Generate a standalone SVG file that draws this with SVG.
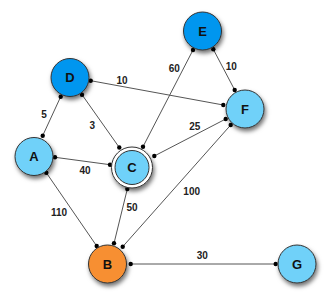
<svg xmlns="http://www.w3.org/2000/svg" width="330" height="300" viewBox="0 0 330 300">
<defs>
<filter id="sh" x="-50%" y="-50%" width="200%" height="200%">
<feDropShadow dx="1.5" dy="3" stdDeviation="2" flood-color="#000" flood-opacity="0.55"/>
</filter>
</defs>
<style>
.e{stroke:#555;stroke-width:1;fill:none}
.d{fill:#000}
.n{stroke:#333;stroke-width:1}
.dk{fill:#0396ef}
.lt{fill:#6fd1f9}
.or{fill:#f78f30}
.t{font-family:"Liberation Sans",Arial,sans-serif;font-weight:bold;text-anchor:middle}
.nl{font-size:13px;fill:#111}
.el{font-size:10px;fill:#222}
</style>
<rect width="330" height="300" fill="#fff"/>
<g id="connectors">
<line class="e" x1="60.7" y1="96.7" x2="42.7" y2="135.7"/>
<line class="e" x1="90.7" y1="80.7" x2="223.3" y2="105"/>
<line class="e" x1="82" y1="94.7" x2="119.3" y2="147.5"/>
<line class="e" x1="193" y1="50" x2="143" y2="146.7"/>
<line class="e" x1="213.3" y1="49.3" x2="234.7" y2="90"/>
<line class="e" x1="225.7" y1="119" x2="154.3" y2="156"/>
<line class="e" x1="230.7" y1="125" x2="122.7" y2="246.7"/>
<line class="e" x1="55" y1="157.3" x2="110" y2="164.7"/>
<line class="e" x1="46.3" y1="172.7" x2="96.7" y2="246"/>
<line class="e" x1="127.3" y1="189" x2="114" y2="243.3"/>
<line class="e" x1="130.7" y1="264" x2="275.7" y2="264"/>
<g class="d">
<circle cx="60.7" cy="96.7" r="2.2"/><circle cx="42.7" cy="135.7" r="2.2"/>
<circle cx="90.7" cy="80.7" r="2.2"/><circle cx="223.3" cy="105" r="2.2"/>
<circle cx="82" cy="94.7" r="2.2"/><circle cx="119.3" cy="147.5" r="2.2"/>
<circle cx="193" cy="50" r="2.2"/><circle cx="143" cy="146.7" r="2.2"/>
<circle cx="213.3" cy="49.3" r="2.2"/><circle cx="234.7" cy="90" r="2.2"/>
<circle cx="225.7" cy="119" r="2.2"/><circle cx="154.3" cy="156" r="2.2"/>
<circle cx="230.7" cy="125" r="2.2"/><circle cx="122.7" cy="246.7" r="2.2"/>
<circle cx="55" cy="157.3" r="2.2"/><circle cx="110" cy="164.7" r="2.2"/>
<circle cx="46.3" cy="172.7" r="2.2"/><circle cx="96.7" cy="246" r="2.2"/>
<circle cx="127.3" cy="189" r="2.2"/><circle cx="114" cy="243.3" r="2.2"/>
<circle cx="130.7" cy="264" r="2.2"/><circle cx="275.7" cy="264" r="2.2"/>
</g>
<g class="t el">
<text x="122" y="83.5">10</text>
<text x="44" y="117.5">5</text>
<text x="92.3" y="128.5">3</text>
<text x="174.3" y="72">60</text>
<text x="231.3" y="70">10</text>
<text x="194.7" y="129.5">25</text>
<text x="85" y="174.2">40</text>
<text x="59" y="215.5">110</text>
<text x="132" y="211">50</text>
<text x="191.7" y="194.5">100</text>
<text x="202.3" y="259.2">30</text>
</g>
</g>
<g id="node-D"><circle class="n dk" cx="70" cy="77.5" r="19" filter="url(#sh)"/><text class="t nl" x="70" y="82">D</text></g>
<g id="node-E"><circle class="n dk" cx="202.5" cy="31" r="19" filter="url(#sh)"/><text class="t nl" x="202.5" y="35.5">E</text></g>
<g id="node-F"><circle class="n lt" cx="245" cy="109" r="19" filter="url(#sh)"/><text class="t nl" x="245" y="113.5">F</text></g>
<g id="node-A"><circle class="n lt" cx="34" cy="156.5" r="19" filter="url(#sh)"/><text class="t nl" x="34" y="161">A</text></g>
<g id="node-C"><circle class="n" fill="#fff" cx="132" cy="167.5" r="20.5" filter="url(#sh)"/><circle class="n lt" cx="132" cy="167.5" r="17"/><text class="t nl" x="132" y="172">C</text></g>
<g id="node-B"><circle class="n or" cx="107.5" cy="264" r="19" filter="url(#sh)"/><text class="t nl" x="107.5" y="268.5">B</text></g>
<g id="node-G"><circle class="n lt" cx="297" cy="264" r="19" filter="url(#sh)"/><text class="t nl" x="297" y="268.5">G</text></g>
</svg>
